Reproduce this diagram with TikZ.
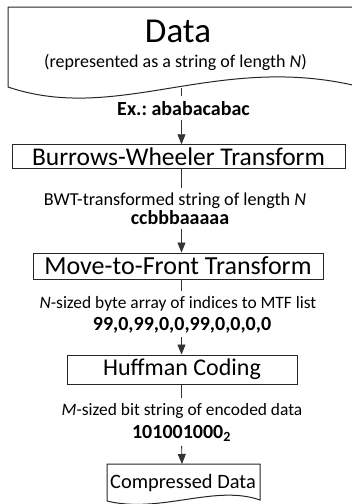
\documentclass[tikz,border=0pt]{standalone}
\usepackage{fontspec}
\setmainfont{Carlito}
\usetikzlibrary{arrows.meta}
\newcommand{\fsz}[1]{\fontsize{#1}{#1}\selectfont}
\frenchspacing
\begin{document}
\begin{tikzpicture}[x=1pt,y=-1pt,
  shapeline/.style={draw=black!85, line width=1pt},
  procbox/.style={shapeline, inner sep=0pt},
  conn/.style={draw=black!80, line width=0.8pt},
  arrowconn/.style={conn, -{Triangle[length=10pt,width=8pt]}},
  lbl/.style={anchor=base, inner xsep=0pt, inner ysep=0.5pt},
  boldlbl/.style={anchor=base, inner xsep=0pt, inner ysep=0.5pt, font=\fsz{20}\bfseries},
  tolbl/.style={shorten >=4pt},
  fromlbl/.style={shorten <=4pt}]
\useasboundingbox (0,0) rectangle (352,504);
\clip (0,0) rectangle (352,504);
% top document shape
\draw[shapeline] (365,88) -- (365,7) -- (8,7) -- (8,87)
  .. controls (120,125) and (220,50) .. (365,88);
\node[anchor=base, font=\fsz{35}] (data) at (178,42) {Data};
\node[anchor=base, font=\fsz{18}] (datasub) at (175.5,67) {(represented as a string of length \textit{N})};
\coordinate (dataout) at (181.5,88);
% process boxes
\node[procbox, minimum width=333pt, minimum height=23.5pt, font=\fsz{25.5}] (bwt) at (178.5,156.5) {Burrows-Wheeler Transform};
\node[procbox, minimum width=290pt, minimum height=26pt, font=\fsz{26}] (mtf) at (178,266) {Move-to-Front Transform};
\node[procbox, minimum width=230pt, minimum height=29pt, font=\fsz{24}] (huff) at (182,369.5) {Huffman Coding};
% bottom document shape
\draw[shapeline] (107,501) -- (107,464) -- (260,464) -- (260,500)
  .. controls (215,484) and (160,514) .. (107,501);
\node[anchor=base, font=\fsz{20.4}] (comp) at (183,488) {Compressed Data};
\coordinate (compin) at (182,464);
% labels
\node[boldlbl] (exlbl) at (183.5,115) {Ex.: ababacabac};
\node[lbl, font=\fsz{18.2}] (bwtlbl) at (175,205) {BWT-transformed string of length \textit{N}};
\node[boldlbl] (bwtex) at (180,224) {ccbbbaaaaa};
\node[lbl, font=\fsz{17.4}] (mtflbl) at (178,308) {\textit{N}-sized byte array of indices to MTF list};
\node[boldlbl] (mtfex) at (182,330) {99,0,99,0,0,99,0,0,0,0};
\node[lbl, font=\fsz{17.4}] (hufflbl) at (182,415) {\textit{M}-sized bit string of encoded data};
\node[boldlbl] (huffex) at (181.5,438) {101001000\textsubscript{2}};
% connectors
\draw[conn, tolbl] (dataout) -- (dataout |- exlbl.north);
\draw[arrowconn, fromlbl] (dataout |- exlbl.south) -- (dataout |- bwt.north);
\draw[conn, tolbl] (dataout |- bwt.south) -- (dataout |- bwtlbl.north);
\draw[arrowconn, fromlbl] (dataout |- bwtex.south) -- (dataout |- mtf.north);
\draw[conn, tolbl] (dataout |- mtf.south) -- (dataout |- mtflbl.north);
\draw[arrowconn, fromlbl] (dataout |- mtfex.south) -- (dataout |- huff.north);
\draw[conn, tolbl] (dataout |- huff.south) -- (dataout |- hufflbl.north);
\draw[arrowconn, fromlbl] (dataout |- huffex.south) -- (compin);
\end{tikzpicture}
\end{document}
